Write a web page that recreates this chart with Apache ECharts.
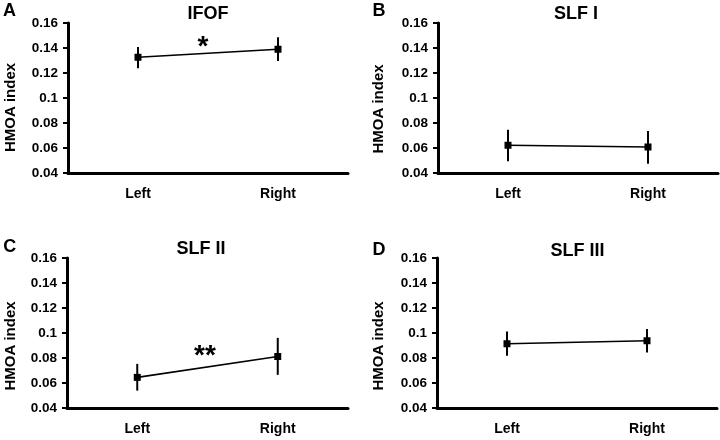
<!DOCTYPE html>
<html>
<head>
<meta charset="utf-8">
<script src="https://cdn.jsdelivr.net/npm/echarts@6/dist/echarts.min.js"></script>
<style>html,body{margin:0;padding:0;background:#fff}#c{width:720px;height:440px}</style>
</head>
<body>
<div id="c"></div>
<script>
var categories = ['Left', 'Right'];
var yTickLabels = ['0.04', '0.06', '0.08', '0.1', '0.12', '0.14', '0.16'];
var panelTitles = ['IFOF', 'SLF I', 'SLF II', 'SLF III'];
var panelLetters = ['A', 'B', 'C', 'D'];
var significance = ['*', '', '**', ''];

var meanIFOF = [0.1326, 0.1390];
var lowIFOF = [0.1238, 0.1296];
var highIFOF = [0.1408, 0.1486];

var meanSLF1 = [0.0622, 0.0608];
var lowSLF1 = [0.0494, 0.0475];
var highSLF1 = [0.0747, 0.0736];

var meanSLF2 = [0.0645, 0.0812];
var lowSLF2 = [0.0539, 0.0665];
var highSLF2 = [0.0753, 0.0961];

var meanSLF3 = [0.0914, 0.0938];
var lowSLF3 = [0.0818, 0.0845];
var highSLF3 = [0.1013, 0.1032];

var means = [meanIFOF, meanSLF1, meanSLF2, meanSLF3];
var lows = [lowIFOF, lowSLF1, lowSLF2, lowSLF3];
var highs = [highIFOF, highSLF1, highSLF2, highSLF3];

var FONT = 'Liberation Sans, Arial, Helvetica, sans-serif';
var grids = [
  {left: 68, top: 23, width: 280, height: 150},
  {left: 438, top: 23, width: 280, height: 150},
  {left: 67, top: 258, width: 281, height: 150},
  {left: 437, top: 258, width: 280, height: 150}
];
var titlePos = [[208, 14.5], [576, 14.5], [201, 249], [577.5, 251]];
var letterPos = [[9.5, 11], [379, 11], [9.7, 247], [379, 250]];
var yNamePos = [[11, 107.5], [379, 109], [11, 346], [379, 346]];
var starPos = [[203, 42], null, [205, 351], null];

var xAxes = [], yAxes = [], series = [], graphics = [];
for (var i = 0; i < 4; i++) {
  xAxes.push({
    type: 'category', gridIndex: i, data: categories, boundaryGap: true,
    axisLine: {lineStyle: {color: '#000', width: 3}},
    axisTick: {show: false},
    axisLabel: {color: '#000', fontFamily: FONT, fontWeight: 'bold', fontSize: 14, margin: 14}
  });
  yAxes.push({
    type: 'value', gridIndex: i, min: 0.04, max: 0.16, interval: 0.02,
    splitLine: {show: false},
    axisLine: {show: true, lineStyle: {color: '#000', width: 3}},
    axisTick: {show: true, length: 5, lineStyle: {color: '#000', width: 2}},
    axisLabel: {color: '#000', fontFamily: FONT, fontWeight: 'bold', fontSize: 13.5, margin: 10,
      formatter: function (v) { return yTickLabels[Math.round((v - 0.04) / 0.02)]; }}
  });
  (function (idx) {
    var errData = categories.map(function (c, k) { return [k, lows[idx][k], highs[idx][k]]; });
    series.push({
      type: 'custom', xAxisIndex: idx, yAxisIndex: idx, data: errData, z: 2,
      renderItem: function (params, api) {
        var p1 = api.coord([api.value(0), api.value(1)]);
        var p2 = api.coord([api.value(0), api.value(2)]);
        return {type: 'line', shape: {x1: p1[0], y1: p1[1], x2: p2[0], y2: p2[1]},
          style: {stroke: '#000', lineWidth: 2}};
      }
    });
  })(i);
  series.push({
    type: 'line', xAxisIndex: i, yAxisIndex: i, data: means[i], z: 3,
    symbol: 'rect', symbolSize: 7, showSymbol: true,
    lineStyle: {color: '#000', width: 1.6},
    itemStyle: {color: '#000'}
  });
  graphics.push({type: 'text', x: titlePos[i][0], y: titlePos[i][1],
    style: {text: panelTitles[i], fill: '#000', font: 'bold 18px ' + FONT, textAlign: 'center', textVerticalAlign: 'middle'}});
  graphics.push({type: 'text', x: letterPos[i][0], y: letterPos[i][1],
    style: {text: panelLetters[i], fill: '#000', font: 'bold 18px ' + FONT, textAlign: 'center', textVerticalAlign: 'middle'}});
  graphics.push({type: 'text', x: yNamePos[i][0], y: yNamePos[i][1], rotation: Math.PI / 2,
    style: {text: 'HMOA index', fill: '#000', font: 'bold 15px ' + FONT, textAlign: 'center', textVerticalAlign: 'middle'}});
  if (significance[i]) {
    graphics.push({type: 'text', x: starPos[i][0], y: starPos[i][1] + 5,
      style: {text: significance[i], fill: '#000', font: 'bold 28px ' + FONT, textAlign: 'center', textVerticalAlign: 'middle'}});
  }
}

var chart = echarts.init(document.getElementById('c'), null, {renderer: 'canvas'});
chart.setOption({
  animation: false,
  backgroundColor: '#fff',
  grid: grids,
  xAxis: xAxes,
  yAxis: yAxes,
  series: series,
  graphic: graphics
});
</script>
</body>
</html>
